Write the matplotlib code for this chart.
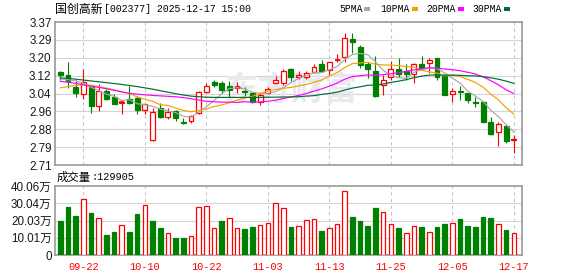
import numpy as np
import matplotlib
matplotlib.use("Agg")
import matplotlib.pyplot as plt
from matplotlib.patches import Rectangle

# ---- data ----
dates = ["09-17", "09-18", "09-19", "09-22", "09-23", "09-24", "09-25", "09-26", "09-29", "09-30",
         "10-09", "10-10", "10-13", "10-14", "10-15", "10-16", "10-17", "10-20", "10-21", "10-22",
         "10-23", "10-24", "10-27", "10-28", "10-29", "10-30", "10-31", "11-03", "11-04", "11-05",
         "11-06", "11-07", "11-10", "11-11", "11-12", "11-13", "11-14", "11-17", "11-18", "11-19",
         "11-20", "11-21", "11-24", "11-25", "11-26", "11-27", "11-28", "12-01", "12-02", "12-03",
         "12-04", "12-05", "12-08", "12-09", "12-10", "12-11", "12-12", "12-15", "12-16", "12-17"]

opens = [3.139, 3.124, 3.071, 3.036, 3.070, 2.984, 3.052, 3.023, 2.998, 3.015,
         3.021, 2.964, 2.825, 2.972, 2.933, 2.959, 2.908, 2.915, 2.952, 3.046,
         3.094, 3.087, 3.075, 3.066, 3.052, 3.044, 3.002, 3.044, 3.087, 3.087,
         3.153, 3.115, 3.115, 3.138, 3.176, 3.148, 3.193, 3.207, 3.290, 3.253,
         3.175, 3.144, 3.079, 3.115, 3.152, 3.145, 3.130, 3.176, 3.179, 3.205,
         3.121, 3.038, 3.053, 3.041, 3.002, 3.002, 2.910, 2.861, 2.890, 2.825]
highs = [3.146, 3.187, 3.102, 3.153, 3.075, 3.084, 3.059, 3.036, 3.001, 3.075,
         3.030, 2.993, 2.972, 2.998, 2.975, 2.965, 2.926, 2.940, 3.050, 3.087,
         3.102, 3.099, 3.099, 3.092, 3.068, 3.048, 3.041, 3.071, 3.121, 3.155,
         3.158, 3.144, 3.145, 3.175, 3.195, 3.187, 3.221, 3.318, 3.318, 3.264,
         3.187, 3.213, 3.125, 3.190, 3.202, 3.176, 3.183, 3.213, 3.205, 3.205,
         3.125, 3.064, 3.075, 3.044, 3.025, 3.004, 2.930, 2.910, 2.895, 2.848]
lows = [3.104, 3.064, 3.025, 3.013, 2.952, 2.959, 3.010, 2.990, 2.944, 2.993,
        2.944, 2.944, 2.822, 2.926, 2.922, 2.913, 2.900, 2.902, 2.944, 3.044,
        3.068, 3.041, 3.025, 3.044, 3.029, 2.998, 2.987, 3.038, 3.085, 3.079,
        3.098, 3.105, 3.107, 3.133, 3.140, 3.125, 3.187, 3.187, 3.228, 3.156,
        3.110, 3.025, 3.033, 3.102, 3.115, 3.102, 3.087, 3.148, 3.136, 3.102,
        3.033, 3.002, 3.010, 2.995, 2.976, 2.910, 2.848, 2.798, 2.810, 2.767]
closes = [3.127, 3.097, 3.044, 3.093, 2.983, 3.053, 3.013, 2.993, 3.000, 2.995,
          2.964, 2.990, 2.956, 2.933, 2.956, 2.926, 2.902, 2.938, 3.048, 3.076,
          3.077, 3.055, 3.056, 3.068, 3.046, 3.002, 3.032, 3.059, 3.102, 3.142,
          3.115, 3.125, 3.133, 3.164, 3.145, 3.184, 3.195, 3.295, 3.279, 3.171,
          3.153, 3.030, 3.102, 3.152, 3.130, 3.130, 3.175, 3.159, 3.195, 3.115,
          3.033, 3.052, 3.047, 3.010, 2.998, 2.910, 2.851, 2.898, 2.822, 2.830]

ma5 = [3.107, 3.104, 3.098, 3.087, 3.069, 3.054, 3.037, 3.027, 3.008, 3.011,
       2.993, 2.988, 2.981, 2.968, 2.960, 2.952, 2.935, 2.931, 2.954, 2.978,
       3.008, 3.039, 3.063, 3.067, 3.061, 3.046, 3.041, 3.041, 3.048, 3.067,
       3.090, 3.109, 3.123, 3.136, 3.136, 3.150, 3.164, 3.197, 3.220, 3.225,
       3.219, 3.186, 3.147, 3.122, 3.113, 3.109, 3.138, 3.149, 3.158, 3.155,
       3.135, 3.111, 3.088, 3.051, 3.028, 3.003, 2.963, 2.933, 2.896, 2.862]
ma10 = [3.066, 3.072, 3.078, 3.080, 3.078, 3.072, 3.065, 3.057, 3.048, 3.040,
        3.024, 3.013, 3.004, 2.988, 2.985, 2.973, 2.962, 2.956, 2.961, 2.969,
        2.980, 2.987, 2.997, 3.010, 3.019, 3.027, 3.040, 3.052, 3.058, 3.064,
        3.068, 3.075, 3.082, 3.092, 3.102, 3.120, 3.136, 3.160, 3.178, 3.181,
        3.184, 3.175, 3.172, 3.171, 3.169, 3.164, 3.162, 3.148, 3.140, 3.134,
        3.122, 3.124, 3.119, 3.105, 3.091, 3.069, 3.037, 3.011, 2.974, 2.945]
ma20 = [3.096, 3.092, 3.087, 3.080, 3.074, 3.068, 3.062, 3.055, 3.047, 3.041,
        3.037, 3.034, 3.031, 3.029, 3.027, 3.025, 3.021, 3.016, 3.010, 3.004,
        3.002, 3.000, 3.000, 2.999, 3.002, 3.000, 3.001, 3.004, 3.009, 3.017,
        3.024, 3.031, 3.040, 3.051, 3.061, 3.074, 3.088, 3.106, 3.118, 3.122,
        3.126, 3.125, 3.127, 3.131, 3.136, 3.142, 3.149, 3.154, 3.159, 3.157,
        3.153, 3.150, 3.145, 3.138, 3.130, 3.117, 3.099, 3.080, 3.057, 3.040]
ma30 = [3.112, 3.110, 3.106, 3.102, 3.098, 3.094, 3.090, 3.086, 3.082, 3.077,
        3.072, 3.066, 3.060, 3.053, 3.046, 3.039, 3.033, 3.028, 3.025, 3.023,
        3.022, 3.022, 3.022, 3.022, 3.022, 3.022, 3.022, 3.023, 3.023, 3.024,
        3.024, 3.025, 3.028, 3.030, 3.036, 3.040, 3.046, 3.056, 3.065, 3.071,
        3.078, 3.079, 3.084, 3.091, 3.097, 3.104, 3.113, 3.120, 3.125, 3.126,
        3.125, 3.125, 3.124, 3.122, 3.121, 3.118, 3.112, 3.106, 3.097, 3.087]

# volume in 万 (10k shares)
volumes = [19.9, 28.0, 22.6, 32.3, 24.6, 21.3, 11.6, 13.3, 17.2, 13.3,
           23.8, 28.8, 19.9, 15.7, 12.6, 10.1, 10.1, 10.8, 27.7, 28.2,
           15.5, 19.9, 21.3, 15.5, 15.1, 16.2, 17.2, 18.4, 30.0, 27.1,
           16.2, 16.6, 20.1, 20.7, 14.1, 15.7, 18.0, 36.9, 22.1, 19.7,
           16.8, 27.3, 25.0, 18.0, 15.7, 12.8, 16.6, 16.2, 13.3, 16.2,
           18.0, 18.6, 20.9, 16.8, 16.2, 22.1, 21.5, 18.0, 14.5, 12.99]

price_ticks = [2.71, 2.7925, 2.875, 2.9575, 3.04, 3.1225, 3.205, 3.2875, 3.37]
price_labels = ["2.71", "2.79", "2.88", "2.96", "3.04", "3.12", "3.20", "3.29", "3.37"]
vol_ticks = [0, 10.015, 20.03, 30.045, 40.06]
vol_labels = ["0", "10.01万", "20.03万", "30.04万", "40.06万"]
tick_idx = [3, 11, 19, 27, 35, 43, 51, 59]

RED = "#FF0000"
GREEN = "#008000"
MA_COLORS = ["#A8A8A8", "#F5A200", "#FF00FF", "#006B32"]
GRID = "#D4D4D4"
FRAME = "#999999"

W, H = 578, 276
fig = plt.figure(figsize=(W / 100, H / 100), dpi=100)
fig.patch.set_facecolor("white")


def px_axes(left, top, right, bottom):
    return fig.add_axes([left / W, 1 - bottom / H, (right - left) / W, (bottom - top) / H])


ax = px_axes(55, 22, 522, 165)
axv = px_axes(55, 186, 522, 255)

x = np.arange(len(closes))
o = np.array(opens); c = np.array(closes); h = np.array(highs); l = np.array(lows)
up = c >= o
body_w = 0.64

for a in (ax, axv):
    a.set_xlim(-0.69, 60.06)
    for s in a.spines.values():
        s.set_color(FRAME)
        s.set_linewidth(1.2)
    a.tick_params(length=0)
    for i in tick_idx:
        a.axvline(i, color="#C4C4C4", lw=0.8, ls=(0, (3, 3)), zorder=0.5)

# price panel
ax.set_ylim(2.71, 3.37)
ax.set_yticks(price_ticks, price_labels, family="Liberation Sans", fontsize=8.4, color="#1a1a1a")
ax.tick_params(axis="y", pad=2.5)
ax.set_xticks([])
for t in price_ticks[1:-1]:
    ax.axhline(t, color=GRID, lw=0.8, zorder=0.5)

ax.text(0.505, 0.52, "东方财富", transform=ax.transAxes, ha="center", va="center",
        family="Noto Sans CJK SC", fontsize=24, fontweight="bold", style="italic",
        color="#E8E8EE", zorder=0.6)

ax.vlines(x, l, h, colors=np.where(up, RED, GREEN), lw=0.8, zorder=2)
ax.bar(x, np.abs(c - o), bottom=np.minimum(o, c), width=body_w,
       color=np.where(up, "white", GREEN), edgecolor=np.where(up, RED, GREEN),
       linewidth=0.9, zorder=3)
flat = np.abs(c - o) < 0.003
ax.hlines(c[flat], x[flat] - body_w / 2, x[flat] + body_w / 2,
          colors=np.where(up[flat], RED, GREEN), lw=1.2, zorder=4)

for ma, col in zip([ma5, ma10, ma20, ma30], MA_COLORS):
    ax.plot(x, ma, color=col, lw=0.85, zorder=5)

# volume panel
vol_up = np.concatenate([[c[0] >= o[0]], c[1:] >= c[:-1]])
axv.set_ylim(0, 40.06)
axv.set_yticks(vol_ticks, vol_labels, family=["Liberation Sans", "Noto Sans CJK SC"],
               fontsize=8.4, color="#1a1a1a")
axv.tick_params(axis="y", pad=2.5)
for t in vol_ticks[1:-1]:
    axv.axhline(t, color=GRID, lw=0.8, zorder=0.5)
axv.bar(x, volumes, width=0.6, color=np.where(vol_up, "white", GREEN),
        edgecolor=np.where(vol_up, RED, GREEN), linewidth=0.9, zorder=3)
axv.set_xticks(tick_idx, [dates[i] for i in tick_idx], family="Liberation Mono",
               fontsize=7.4, color=RED)
axv.tick_params(axis="x", pad=5)

# header texts
def ftext(px, py, s, **kw):
    fig.text(px / W, 1 - py / H, s, va="center", **kw)

ftext(55, 9.5, "国创高新", family="Noto Sans CJK SC", fontsize=8.6)
ftext(104, 9.5, "[002377] 2025-12-17 15:00", family="Liberation Mono", fontsize=7.1)
ftext(57, 177, "成交量", family="Noto Sans CJK SC", fontsize=8.2)
ftext(91.5, 177, ":129905", family="Liberation Mono", fontsize=7.4)

legend_names = ["5PMA", "10PMA", "20PMA", "30PMA"]
legend_x = [339, 380, 426.5, 472.5]
square_x = [363.5, 411.5, 458, 504]
for name, lx, sx, col in zip(legend_names, legend_x, square_x, MA_COLORS):
    ftext(lx, 9, name, family="Liberation Mono", fontsize=7.0)
    fig.add_artist(Rectangle((sx / W, 1 - 10.5 / H), 6 / W, 4 / H,
                             transform=fig.transFigure, color=col, lw=0))

fig.savefig("out.png", dpi=100)
